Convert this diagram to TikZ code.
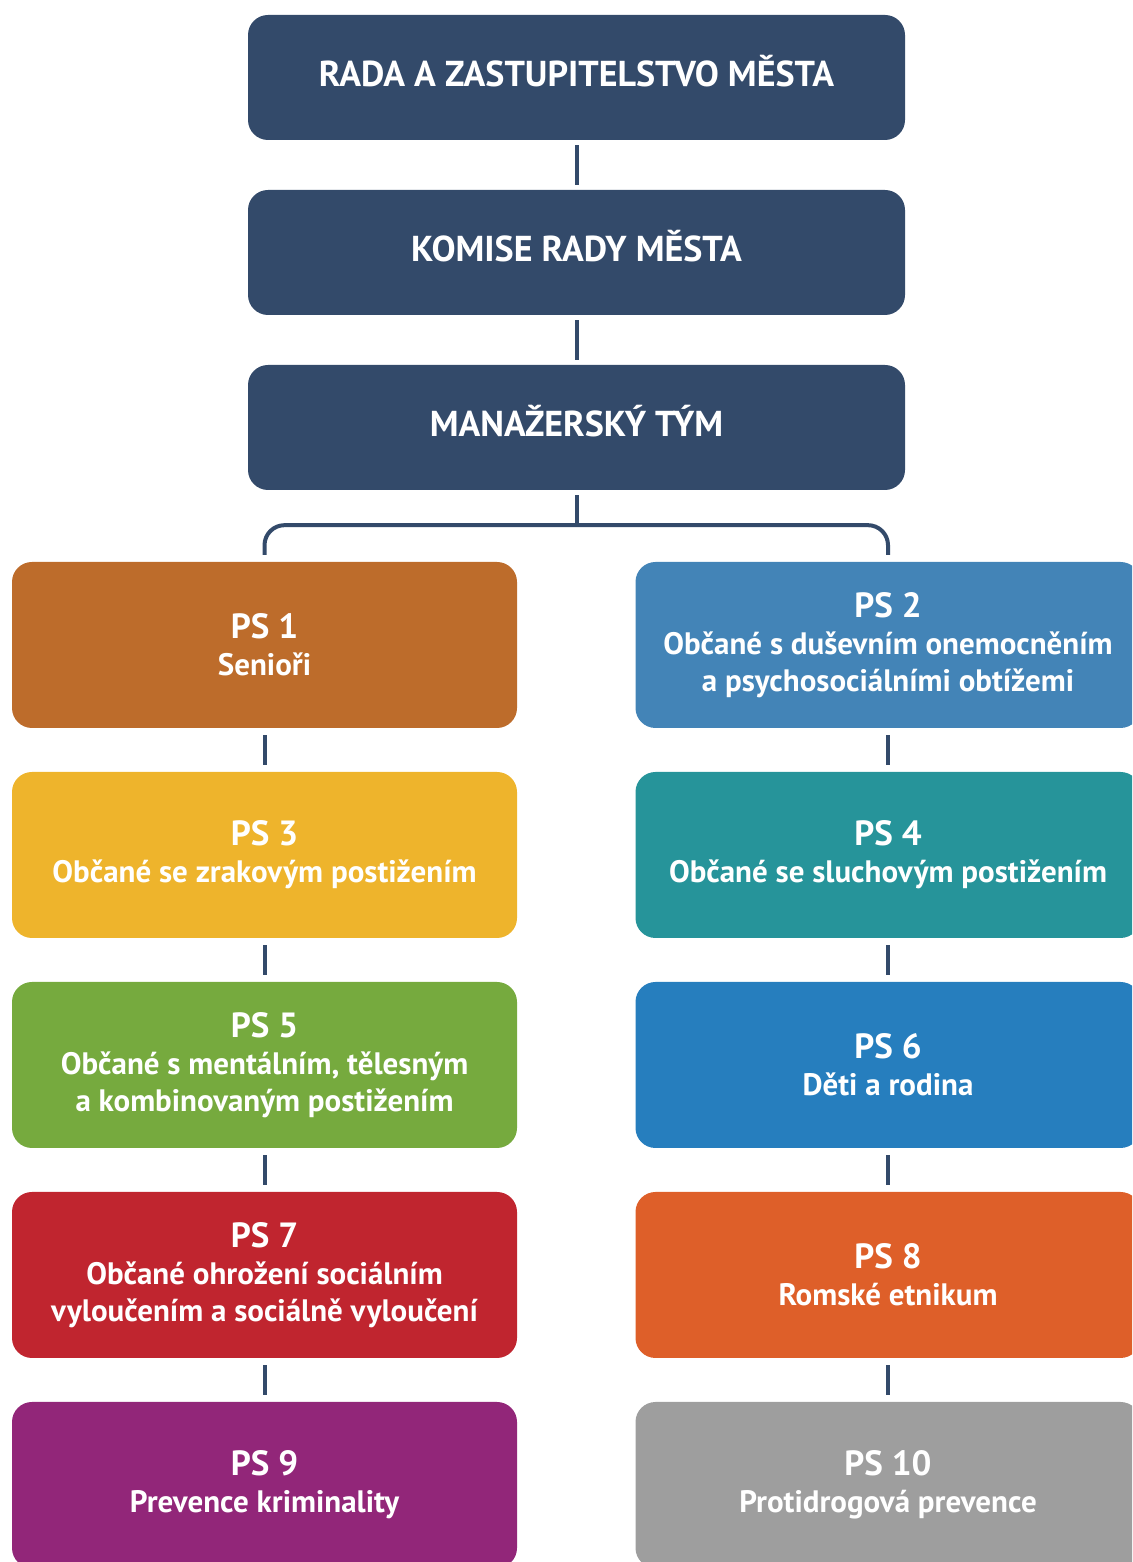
\documentclass[tikz,border=0pt]{standalone}
\usepackage{fontspec}
\setmainfont{PT Sans}
\usetikzlibrary{positioning}

\definecolor{navy}{HTML}{334A6A}
\definecolor{ps1col}{HTML}{BD6C2B}
\definecolor{ps2col}{HTML}{4384B7}
\definecolor{ps3col}{HTML}{EEB42C}
\definecolor{ps4col}{HTML}{26949A}
\definecolor{ps5col}{HTML}{76AA3E}
\definecolor{ps6col}{HTML}{267EBE}
\definecolor{ps7col}{HTML}{C0252F}
\definecolor{ps8col}{HTML}{DE5F29}
\definecolor{ps9col}{HTML}{922679}
\definecolor{ps10col}{HTML}{9E9E9E}

\newcommand{\psnum}[1]{{\fontsize{35}{37}\selectfont PS #1}\\}

\tikzset{
	topbox/.style={rectangle, rounded corners=20pt, fill=navy, text=white,
		minimum width=657pt, minimum height=125pt,
		text height=26pt, text depth=8pt,
		font=\bfseries\fontsize{36}{44}\selectfont},
	psbox/.style={rectangle, rounded corners=20pt, fill=#1, text=white,
		minimum width=505pt, minimum height=166pt, align=center,
		font=\bfseries\fontsize{31}{37}\selectfont},
	link/.style={draw=navy, line width=4pt},
}

\begin{document}
\begin{tikzpicture}[node distance=175pt, on grid]
	\clip (0,0) rectangle (1132pt,1562pt);
	
	\node (rada) [topbox] at (576.5pt,1484.5pt) {RADA A ZASTUPITELSTVO MĚSTA};
	\node (komise) [topbox, below of = rada] {KOMISE RADY MĚSTA};
	\node (mgr) [topbox, below of = komise] {MANAŽERSKÝ TÝM};
	
	\node (ps1) [psbox=ps1col, below left = 217.5pt and 312pt of mgr] {\psnum{1}Senioři};
	\node (ps2) [psbox=ps2col, right = 623.5pt of ps1] {\psnum{2}Občané s duševním onemocněním\\a psychosociálními obtížemi};
	\node (ps3) [psbox=ps3col, below = 210pt of ps1] {\psnum{3}Občané se zrakovým postižením};
	\node (ps4) [psbox=ps4col, below = 210pt of ps2] {\psnum{4}Občané se sluchovým postižením};
	\node (ps5) [psbox=ps5col, below = 210pt of ps3] {\psnum{5}Občané s mentálním, tělesným\\a kombinovaným postižením};
	\node (ps6) [psbox=ps6col, below = 210pt of ps4] {\psnum{6}Děti a rodina};
	\node (ps7) [psbox=ps7col, below = 210pt of ps5] {\psnum{7}Občané ohrožení sociálním\\vyloučením a sociálně vyloučení};
	\node (ps8) [psbox=ps8col, below = 210pt of ps6] {\psnum{8}Romské etnikum};
	\node (ps9) [psbox=ps9col, below = 210pt of ps7] {\psnum{9}Prevence kriminality};
	\node (ps10) [psbox=ps10col, below = 210pt of ps8] {\psnum{10}Protidrogová prevence};
	
	\path [link, shorten >=5pt, shorten <=5pt]
	(rada) edge (komise)
	(komise) edge (mgr);
	
	%split to both columns
	\coordinate (split) at ([yshift=-35pt]mgr.south);
	\draw [link] ([yshift=-5pt]mgr.south) -- (split);
	\draw [link, rounded corners=20pt] ([yshift=7pt]ps1.north) |- (split) -| ([yshift=7pt]ps2.north);
	
	\path [link, shorten >=7pt, shorten <=7pt]
	(ps1) edge (ps3)
	(ps3) edge (ps5)
	(ps5) edge (ps7)
	(ps7) edge (ps9)
	(ps2) edge (ps4)
	(ps4) edge (ps6)
	(ps6) edge (ps8)
	(ps8) edge (ps10);
\end{tikzpicture}
\end{document}
